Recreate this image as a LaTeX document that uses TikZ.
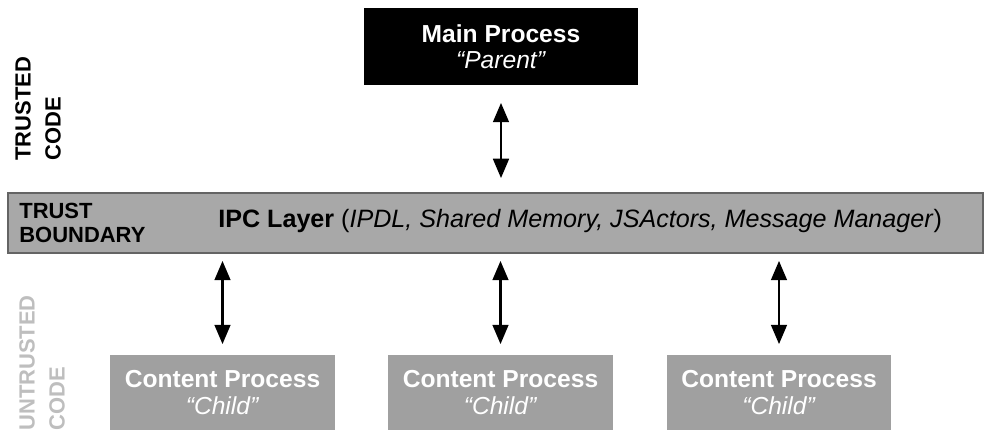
\documentclass[tikz,border=0pt]{standalone}
\usepackage{fontspec}
\setmainfont{Liberation Sans}
\definecolor{layergray}{RGB}{168, 168, 168}
\definecolor{edgegray}{RGB}{100, 100, 100}
\definecolor{childgray}{RGB}{160, 160, 160}
\definecolor{fadegray}{RGB}{190, 190, 190}
\usetikzlibrary{arrows.meta, positioning, calc}

\tikzset{
  procbox/.style={minimum width=5.48cm, minimum height=1.54cm, align=center, text=white, inner sep=2pt, font=\fontsize{14}{15}\selectfont},
  childbox/.style={fill=childgray, minimum width=4.5cm, minimum height=1.5cm, align=center, text=white, inner sep=2pt, font=\fontsize{14}{15}\selectfont},
  zonelabel/.style={rotate=90, align=left, anchor=north west, inner sep=0pt, font=\fontsize{12.5}{17}\selectfont\bfseries},
  ipcarrow/.style={{Triangle[length=11pt, width=9pt]}-{Triangle[length=11pt, width=9pt]}, line width=1.3pt}
}

\begin{document}
\begin{tikzpicture}[x=0.02cm, y=-0.02cm]
  \useasboundingbox (0,0) rectangle (991,432);

  \node[procbox, fill=black] (main) at (501,46.5) {\textbf{Main Process}\\\textit{“Parent”}};

  \node[draw=edgegray, line width=1pt, fill=layergray, minimum width=19.5cm, minimum height=1.2cm] (ipc) at (495.5,223) {};
  \node[anchor=west, align=left, inner sep=0pt, font=\fontsize{12.5}{13.5}\selectfont\bfseries] (boundary) at (19,223) {TRUST\\BOUNDARY};
  \node[anchor=west, inner sep=0pt, font=\fontsize{14.3}{16}\selectfont] (ipctext) at (218,221)
    {\textbf{IPC Layer} (\textit{IPDL, Shared Memory, JSActors, Message Manager})};

  \node[childbox] (child1) at (222.5,392.5) {\textbf{Content Process}\\\textit{“Child”}};
  \node[childbox] (child2) at (500.5,392.5) {\textbf{Content Process}\\\textit{“Child”}};
  \node[childbox] (child3) at (779,392.5) {\textbf{Content Process}\\\textit{“Child”}};

  \node[zonelabel] (trusted) at (15,161) {TRUSTED\\CODE};
  \node[zonelabel, text=fadegray] (untrusted) at (19,431) {UNTRUSTED\\CODE};

  \draw[ipcarrow, shorten <=10pt, shorten >=8pt] (main.south) -- (main.south |- ipc.north);
  \foreach \c in {child1, child2, child3}
    \draw[ipcarrow, shorten <=4pt, shorten >=6pt] (\c.north |- ipc.south) -- (\c.north);
\end{tikzpicture}
\end{document}
